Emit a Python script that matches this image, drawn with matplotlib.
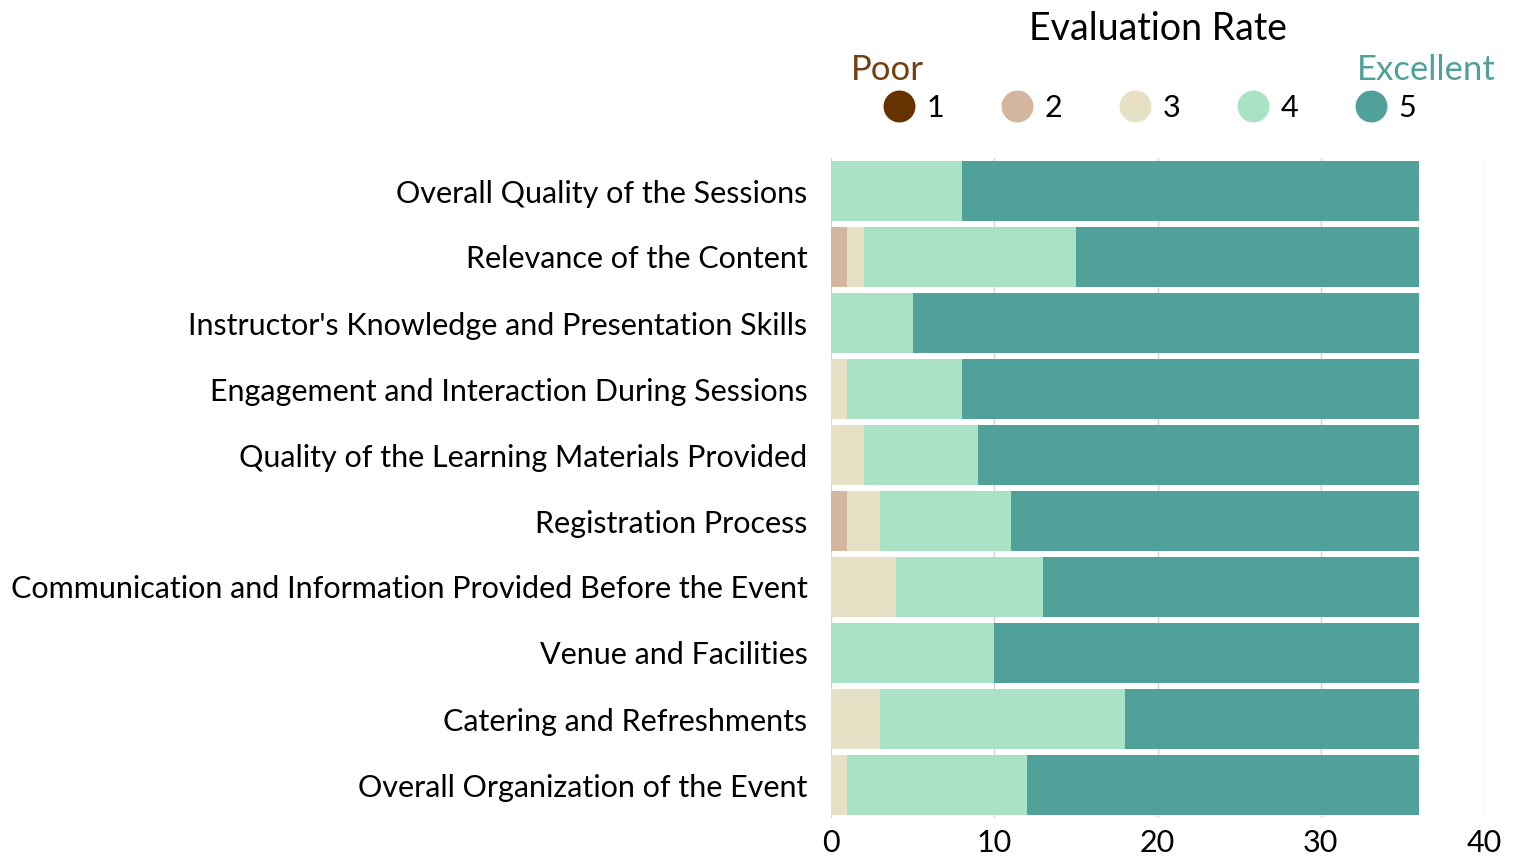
import matplotlib
matplotlib.use("Agg")
import matplotlib.pyplot as plt
from matplotlib.lines import Line2D
import numpy as np

plt.rcParams['font.family'] = ['Lato', 'DejaVu Sans']

categories = [
    "Overall Quality of the Sessions",
    "Relevance of the Content",
    "Instructor's Knowledge and Presentation Skills",
    "Engagement and Interaction During Sessions",
    "Quality of the Learning Materials Provided",
    "Registration Process",
    "Communication and Information Provided Before the Event",
    "Venue and Facilities",
    "Catering and Refreshments",
    "Overall Organization of the Event",
]
rate_1 = [0, 0, 0, 0, 0, 0, 0, 0, 0, 0]
rate_2 = [0, 1, 0, 0, 0, 1, 0, 0, 0, 0]
rate_3 = [0, 1, 0, 1, 2, 2, 4, 0, 3, 1]
rate_4 = [8, 13, 5, 7, 7, 8, 9, 10, 15, 11]
rate_5 = [28, 21, 31, 28, 27, 25, 23, 26, 18, 24]
rate_labels = ["1", "2", "3", "4", "5"]
colors = ["#663300", "#d4b59e", "#e6e1c5", "#a9e2c4", "#50a19a"]

fig = plt.figure(figsize=(15.15, 8.58), dpi=100)
ax = fig.add_axes([831 / 1515, 1 - 818 / 858, (1484 - 831) / 1515, (818 - 158) / 858])

y = np.arange(len(categories))
left = np.zeros(len(categories))
for vals, col in zip([rate_1, rate_2, rate_3, rate_4, rate_5], colors):
    vals = np.array(vals, dtype=float)
    ax.barh(y, vals, left=left, height=0.9, color=col, edgecolor='none', zorder=2)
    left += vals

ax.set_ylim(len(categories) - 0.5, -0.5)
ax.set_xlim(0, 40)
ax.set_xticks([0, 10, 20, 30, 40])
ax.set_yticks(y)
ax.set_yticklabels(categories, fontsize=22)
ax.tick_params(axis='y', length=0, pad=17)
ax.tick_params(axis='x', length=0, pad=8, labelsize=22)
ax.grid(axis='x', color='#d4d4d4', linewidth=1, zorder=0)
for s in ax.spines.values():
    s.set_visible(False)

handles = [Line2D([], [], marker='o', linestyle='none', markersize=23,
                  markerfacecolor=c, markeredgecolor='none') for c in colors]
fig.legend(handles, rate_labels, ncol=5, loc='center',
           bbox_to_anchor=(1150 / 1515, 1 - 108 / 858), frameon=False,
           fontsize=22, columnspacing=1.88, handletextpad=0.4, handlelength=1.0)

fig.text(1158 / 1515, 1 - 29 / 858, "Evaluation Rate", fontsize=27, ha='center', va='center')
fig.text(851 / 1515, 1 - 70 / 858, "Poor", fontsize=25, color="#73400f", ha='left', va='center')
fig.text(1496 / 1515, 1 - 70 / 858, "Excellent", fontsize=25, color="#50a19a", ha='right', va='center')

fig.savefig("out.png", dpi=100)
